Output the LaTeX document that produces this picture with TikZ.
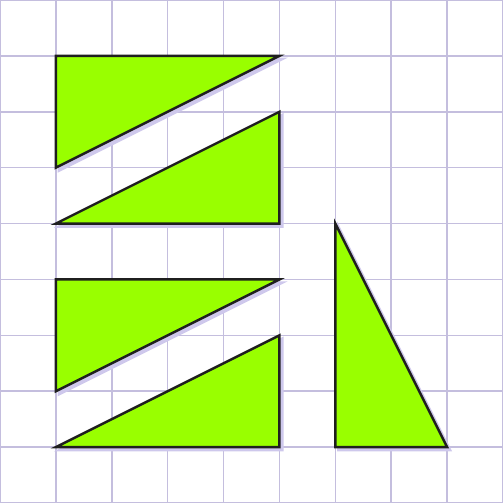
\documentclass[tikz,border=0pt]{standalone}
\usepackage{tikz}
\usepackage{xcolor}
\definecolor{gridlav}{RGB}{196,190,222}
\definecolor{shadelav}{RGB}{206,200,236}
\definecolor{trigreen}{RGB}{153,255,0}
\begin{document}
\begin{tikzpicture}[x=1cm,y=1cm,
        tri/.style={draw=black!88,fill=trigreen,line width=1.25pt,line join=miter},
        shade/.style={fill=shadelav,draw=shadelav,line width=1.25pt}]
        \useasboundingbox (0,0) rectangle (9,9);
        \draw[gridlav,line width=0.8pt] (0,0) grid (9,9);
        % shadows first, then the triangles
        \foreach \p in {{(1,8) -- (5,8) -- (1,6)},{(1,5) -- (5,5) -- (5,7)},
                        {(1,4) -- (5,4) -- (1,2)},{(1,1) -- (5,1) -- (5,3)},
                        {(6,5) -- (6,1) -- (8,1)}}{
          \draw[shade,shift={(0.055,-0.055)}] \p -- cycle;
        }
        \foreach \p in {{(1,8) -- (5,8) -- (1,6)},{(1,5) -- (5,5) -- (5,7)},
                        {(1,4) -- (5,4) -- (1,2)},{(1,1) -- (5,1) -- (5,3)},
                        {(6,5) -- (6,1) -- (8,1)}}{
          \draw[tri] \p -- cycle;
        }
      \end{tikzpicture}
\end{document}
